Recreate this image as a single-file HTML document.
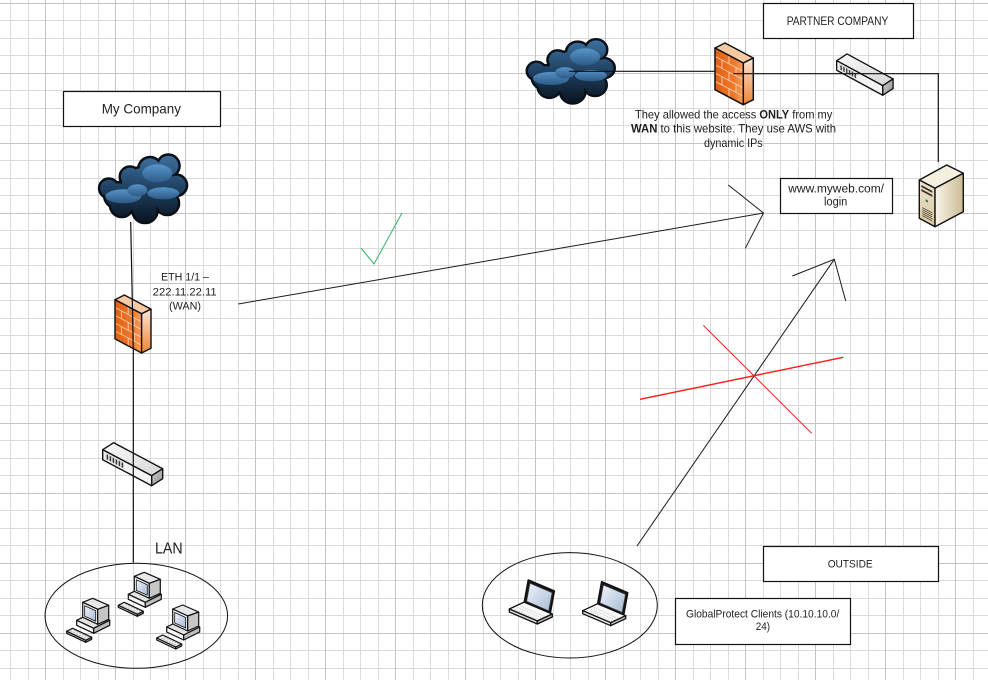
<!DOCTYPE html>
<html>
<head>
<meta charset="utf-8">
<style>
html,body{margin:0;padding:0;background:#fff;}
body{width:988px;height:680px;overflow:hidden;}
svg{display:block;}
text{font-family:"Liberation Sans",Arial,sans-serif;fill:#1e1e1e;}
</style>
</head>
<body>
<svg width="988" height="680" viewBox="0 0 988 680" xmlns="http://www.w3.org/2000/svg">
<defs>
  <linearGradient id="cloudG" gradientUnits="userSpaceOnUse" x1="0" y1="0" x2="0" y2="72">
    <stop offset="0" stop-color="#3f73a3"/>
    <stop offset="0.5" stop-color="#1f405f"/>
    <stop offset="1" stop-color="#07101a"/>
  </linearGradient>
  <linearGradient id="puffG" x1="0" y1="0" x2="0" y2="1">
    <stop offset="0" stop-color="#5c9ad2"/>
    <stop offset="1" stop-color="#2f5f8c"/>
  </linearGradient>
  <linearGradient id="fwFront" x1="0" y1="0" x2="1" y2="0">
    <stop offset="0" stop-color="#e35f14"/>
    <stop offset="0.7" stop-color="#f07a2c"/>
    <stop offset="1" stop-color="#f7a263"/>
  </linearGradient>
  <linearGradient id="fwSide" x1="0" y1="0" x2="0" y2="1">
    <stop offset="0" stop-color="#fbe6d6"/>
    <stop offset="1" stop-color="#ef8535"/>
  </linearGradient>
  <linearGradient id="swTop" x1="0" y1="0" x2="1" y2="1">
    <stop offset="0" stop-color="#fafafa"/>
    <stop offset="1" stop-color="#d6d6d6"/>
  </linearGradient>
  <linearGradient id="swEnd" x1="0" y1="0" x2="1" y2="1">
    <stop offset="0" stop-color="#d0d0d0"/>
    <stop offset="1" stop-color="#8f8f8f"/>
  </linearGradient>
  <linearGradient id="srvSide" x1="0" y1="0" x2="1" y2="0">
    <stop offset="0" stop-color="#f8f4ea"/>
    <stop offset="1" stop-color="#cbbb94"/>
  </linearGradient>
  <linearGradient id="srvFront" x1="0" y1="0" x2="0" y2="1">
    <stop offset="0" stop-color="#efe6d1"/>
    <stop offset="1" stop-color="#d6c7a2"/>
  </linearGradient>
  <linearGradient id="scrG" x1="0" y1="0" x2="1" y2="1">
    <stop offset="0" stop-color="#f0f4fb"/>
    <stop offset="1" stop-color="#a6bad6"/>
  </linearGradient>

  <!-- cloud -->
  <g id="cloud">
    <g fill="#0a1017" stroke="#0a1017" stroke-width="5">
      <circle cx="11.5" cy="35" r="8.5"/>
      <circle cx="32.7" cy="23.4" r="9"/>
      <circle cx="52.7" cy="15.5" r="10.5"/>
      <circle cx="71" cy="12.5" r="10"/>
      <circle cx="79" cy="32" r="9.5"/>
      <circle cx="70" cy="50" r="10.5"/>
      <circle cx="47.7" cy="57" r="11.5"/>
      <circle cx="24.4" cy="52" r="10.5"/>
      <circle cx="45" cy="37" r="22"/>
      <circle cx="20" cy="42" r="12"/>
      <circle cx="62" cy="28" r="14"/>
    </g>
    <g fill="url(#cloudG)">
      <circle cx="11.5" cy="35" r="8.5"/>
      <circle cx="32.7" cy="23.4" r="9"/>
      <circle cx="52.7" cy="15.5" r="10.5"/>
      <circle cx="71" cy="12.5" r="10"/>
      <circle cx="79" cy="32" r="9.5"/>
      <circle cx="70" cy="50" r="10.5"/>
      <circle cx="47.7" cy="57" r="11.5"/>
      <circle cx="24.4" cy="52" r="10.5"/>
      <circle cx="45" cy="37" r="22"/>
      <circle cx="20" cy="42" r="12"/>
      <circle cx="62" cy="28" r="14"/>
    </g>
    <g fill="url(#puffG)" opacity="0.9">
      <ellipse cx="60" cy="20" rx="15" ry="9"/>
      <ellipse cx="26" cy="43" rx="18" ry="7"/>
      <ellipse cx="66" cy="40" rx="16" ry="6"/>
      <ellipse cx="40" cy="37" rx="10" ry="6"/>
    </g>
  </g>

  <!-- firewall -->
  <g id="fw" stroke="#111" stroke-width="1.5" stroke-linejoin="round">
    <polygon points="0,5 10,0 38.3,15 28.3,20" fill="#f8caa4"/>
    <polygon points="0,5 28.3,20 28.3,61.7 0,46.7" fill="url(#fwFront)"/>
    <polygon points="28.3,20 38.3,15 38.3,56.7 28.3,61.7" fill="url(#fwSide)"/>
    <g transform="matrix(1,0.53,0,1,0,5)" stroke="#fde2cc" stroke-width="0.8" fill="none">
      <path d="M1 8.3H27.5M1 16.7H27.5M1 25H27.5M1 33.3H27.5"/>
      <path d="M14 0.8V8.3M7 8.3V16.7M21 8.3V16.7M14 16.7V25M7 25V33.3M21 25V33.3M14 33.3V41"/>
    </g>
  </g>

  <!-- switch -->
  <g id="sw" stroke="#111" stroke-width="1.4" stroke-linejoin="round">
    <polygon points="0,8 11,1 60,27 49,34" fill="url(#swTop)"/>
    <polygon points="0,8 49,34 49,44 0,18" fill="#f3f3f3"/>
    <polygon points="49,34 60,27 60,37 49,44" fill="url(#swEnd)"/>
    <g transform="matrix(1,0.53,0,1,0,8)" stroke="none">
      <rect x="2.5" y="1.5" width="19" height="6.5" fill="#dedede"/>
      <rect x="4" y="2.5" width="1.4" height="5" fill="#333"/>
      <rect x="7" y="2.5" width="1.4" height="5" fill="#333"/>
      <rect x="10" y="2.5" width="1.4" height="5" fill="#333"/>
      <rect x="13" y="2.5" width="1.4" height="5" fill="#333"/>
      <rect x="16" y="2.5" width="1.4" height="5" fill="#333"/>
      <rect x="19" y="2.5" width="1.4" height="5" fill="#333"/>
    </g>
  </g>

  <!-- server -->
  <g id="srv" stroke="#111" stroke-width="1.4" stroke-linejoin="round">
    <polygon points="0,15 27.4,0 44,8.3 15.7,23.3" fill="#f5efe0"/>
    <polygon points="0,15 15.7,23.3 15.7,61.7 0,53.3" fill="url(#srvFront)"/>
    <polygon points="15.7,23.3 44,8.3 44,46.7 15.7,61.7" fill="url(#srvSide)"/>
    <g transform="matrix(1,0.53,0,1,0,15)" stroke="none">
      <rect x="2" y="4" width="11" height="2" fill="#3a3224"/>
      <rect x="2" y="8" width="11" height="2" fill="#3a3224"/>
      <circle cx="7.5" cy="17" r="1.3" fill="#2a7a4a"/>
      <path d="M3 26H13M3 28H13M3 30H13M3 32H13M3 34H13" stroke="#3a3224" stroke-width="0.8"/>
    </g>
  </g>

  <!-- desktop -->
  <g id="pc" stroke="#111" stroke-width="1.2" stroke-linejoin="round">
    <polygon points="-5,22 11,14 28,22 12,30" fill="#e4e4e4"/>
    <polygon points="-5,22 12,30 12,35 -5,27" fill="#f6f6f6"/>
    <polygon points="12,30 28,22 28,27 12,35" fill="#bdbdbd"/>
    <polygon points="1,4 11,0 27,7 16,11" fill="#e8e8e8"/>
    <polygon points="1,4 16,11 16,26 1,19" fill="#f3f3f3"/>
    <polygon points="16,11 27,7 27,21 16,26" fill="#c6c6c6"/>
    <polygon points="3,7.5 14,12.5 14,23 3,18" fill="url(#scrG)" stroke-width="0.8"/>
    <polygon points="-15,33 -9,30 10,39 4,42" fill="#f4f4f4"/>
    <polygon points="-15,33 4,42 4,44 -15,35" fill="#cfcfcf"/>
    <polygon points="4,42 10,39 10,41 4,44" fill="#a8a8a8"/>
    <path d="M-11,33 L5,40.5 M-8,32 L7,39" stroke="#9a9a9a" stroke-width="0.7" stroke-dasharray="2 1"/>
  </g>

  <!-- laptop -->
  <g id="lap" stroke="#111" stroke-width="1.3" stroke-linejoin="round">
    <polygon points="1,29 16,22 44,34 29,41" fill="#f8f8f8"/>
    <polygon points="1,29 29,41 29,44 1,32" fill="#e2e2e2"/>
    <polygon points="29,41 44,34 44,37 29,44" fill="#bbbbbb"/>
    <path d="M6,29 L30,39.5 M9,27.5 L33,38 M12,26 L36,36.5" stroke="#c4c4c4" stroke-width="0.7" stroke-dasharray="1.5 1"/>
    <polygon points="16,22 20,0 46,11 42,33" fill="#1b1b1b" stroke-width="1.6"/>
    <polygon points="18.5,21.2 21.8,3.5 43.6,12.8 40.3,30.6" fill="url(#scrG)" stroke="#555" stroke-width="0.5"/>
  </g>
</defs>

<!-- GRID -->
<path fill="none" stroke="#dadada" stroke-width="1" d="M10.5 0V680M28.5 0V680M63.5 0V680M80.5 0V680M98.5 0V680M133.5 0V680M150.5 0V680M168.5 0V680M203.5 0V680M220.5 0V680M238.5 0V680M273.5 0V680M290.5 0V680M308.5 0V680M343.5 0V680M360.5 0V680M378.5 0V680M413.5 0V680M430.5 0V680M448.5 0V680M483.5 0V680M500.5 0V680M518.5 0V680M553.5 0V680M570.5 0V680M588.5 0V680M623.5 0V680M640.5 0V680M658.5 0V680M693.5 0V680M710.5 0V680M728.5 0V680M763.5 0V680M780.5 0V680M798.5 0V680M833.5 0V680M850.5 0V680M868.5 0V680M903.5 0V680M920.5 0V680M938.5 0V680M973.5 0V680
M0 20.5H988M0 38.5H988M0 55.5H988M0 90.5H988M0 108.5H988M0 125.5H988M0 160.5H988M0 178.5H988M0 195.5H988M0 230.5H988M0 248.5H988M0 265.5H988M0 300.5H988M0 318.5H988M0 335.5H988M0 370.5H988M0 388.5H988M0 405.5H988M0 440.5H988M0 458.5H988M0 475.5H988M0 510.5H988M0 528.5H988M0 545.5H988M0 580.5H988M0 598.5H988M0 615.5H988M0 650.5H988M0 668.5H988"/>
<path fill="none" stroke="#c4c4c4" stroke-width="1" d="M45.5 0V680M115.5 0V680M185.5 0V680M255.5 0V680M325.5 0V680M395.5 0V680M465.5 0V680M535.5 0V680M605.5 0V680M675.5 0V680M745.5 0V680M815.5 0V680M885.5 0V680M955.5 0V680
M0 3.5H988M0 73.5H988M0 143.5H988M0 213.5H988M0 283.5H988M0 353.5H988M0 423.5H988M0 493.5H988M0 563.5H988M0 633.5H988"/>

<!-- ellipses -->
<ellipse cx="136.3" cy="615.8" rx="91.3" ry="52.5" fill="none" stroke="#111" stroke-width="1"/>
<ellipse cx="569.8" cy="605.3" rx="87.5" ry="52.7" fill="none" stroke="#111" stroke-width="1"/>

<!-- icons -->
<use href="#cloud" transform="translate(97.3,153.3)"/>
<use href="#cloud" transform="translate(525,38) scale(1,0.94)"/>
<use href="#fw" transform="translate(115,295) scale(0.94)"/>
<use href="#fw" transform="translate(715,43)"/>
<use href="#sw" transform="translate(102.7,441.7)"/>
<use href="#sw" transform="translate(836.7,53) scale(0.94,0.96)"/>
<use href="#srv" transform="translate(919.3,165)"/>
<use href="#pc" transform="translate(133.3,572.3)"/>
<use href="#pc" transform="translate(81.7,598.3)"/>
<use href="#pc" transform="translate(171.7,605)"/>
<use href="#lap" transform="translate(508.3,580)"/>
<use href="#lap" transform="translate(581.7,581.7)"/>

<!-- connectors -->
<g fill="none" stroke="#111" stroke-width="1.2">
  <polyline points="130.7,222 133.3,350 133.3,562.5"/>
  <line x1="569" y1="71.3" x2="715" y2="71.3"/>
  <polyline points="733.3,73.7 938.3,73.7 938.3,162"/>
</g>
<g fill="none" stroke="#1a1a1a" stroke-width="1">
  <line x1="238.3" y1="304" x2="763.5" y2="213"/>
  <polyline points="728.3,185 763.5,213 745.3,248.3"/>
  <line x1="637" y1="546" x2="834.3" y2="259.3"/>
  <polyline points="792.3,276 834.3,259.3 845.7,301"/>
</g>
<g fill="none" stroke="#ff1a1a">
  <line x1="640" y1="399.3" x2="843.3" y2="357.3" stroke-width="1.4"/>
  <line x1="703.3" y1="325.3" x2="811.7" y2="433.3" stroke-width="1"/>
</g>
<polyline points="361,248 374,264 402,213" fill="none" stroke="#2fb35e" stroke-width="1"/>

<!-- boxes -->
<g fill="#fff" stroke="#111" stroke-width="1.2">
  <rect x="63.5" y="91.5" width="157" height="35"/>
  <rect x="763.5" y="3.5" width="150" height="35"/>
  <rect x="780.5" y="178.5" width="112" height="35"/>
  <rect x="763.5" y="546.5" width="175" height="35"/>
  <rect x="675.5" y="598.5" width="175" height="46"/>
</g>

<!-- text -->
<text x="101.7" y="113.3" font-size="14" textLength="79.3" lengthAdjust="spacingAndGlyphs">My Company</text>
<text x="786.7" y="25" font-size="11.5" textLength="101.6" lengthAdjust="spacingAndGlyphs">PARTNER COMPANY</text>
<text x="788.3" y="192.3" font-size="11.5" textLength="95.7" lengthAdjust="spacingAndGlyphs">www.myweb.com/</text>
<text x="824" y="205.5" font-size="11.5" textLength="23.3" lengthAdjust="spacingAndGlyphs">login</text>
<text x="635" y="118.3" font-size="12" textLength="197.3" lengthAdjust="spacingAndGlyphs">They allowed the access <tspan font-weight="bold">ONLY</tspan> from my</text>
<text x="631" y="132.7" font-size="12" textLength="205" lengthAdjust="spacingAndGlyphs"><tspan font-weight="bold">WAN</tspan> to this website. They use AWS with</text>
<text x="704" y="147" font-size="12" textLength="58.7" lengthAdjust="spacingAndGlyphs">dynamic IPs</text>
<text x="161" y="280.7" font-size="11" textLength="48" lengthAdjust="spacingAndGlyphs">ETH 1/1 –</text>
<text x="152.7" y="295.7" font-size="11" textLength="64" lengthAdjust="spacingAndGlyphs">222.11.22.11</text>
<text x="169" y="309.5" font-size="11" textLength="32" lengthAdjust="spacingAndGlyphs">(WAN)</text>
<text x="155" y="553.3" font-size="15.5" textLength="27.7" lengthAdjust="spacingAndGlyphs">LAN</text>
<text x="827.7" y="567.3" font-size="11" textLength="45" lengthAdjust="spacingAndGlyphs">OUTSIDE</text>
<text x="686" y="617.3" font-size="11" textLength="153.3" lengthAdjust="spacingAndGlyphs">GlobalProtect Clients (10.10.10.0/</text>
<text x="755.7" y="630" font-size="11" textLength="14.3" lengthAdjust="spacingAndGlyphs">24)</text>
</svg>
</body>
</html>
